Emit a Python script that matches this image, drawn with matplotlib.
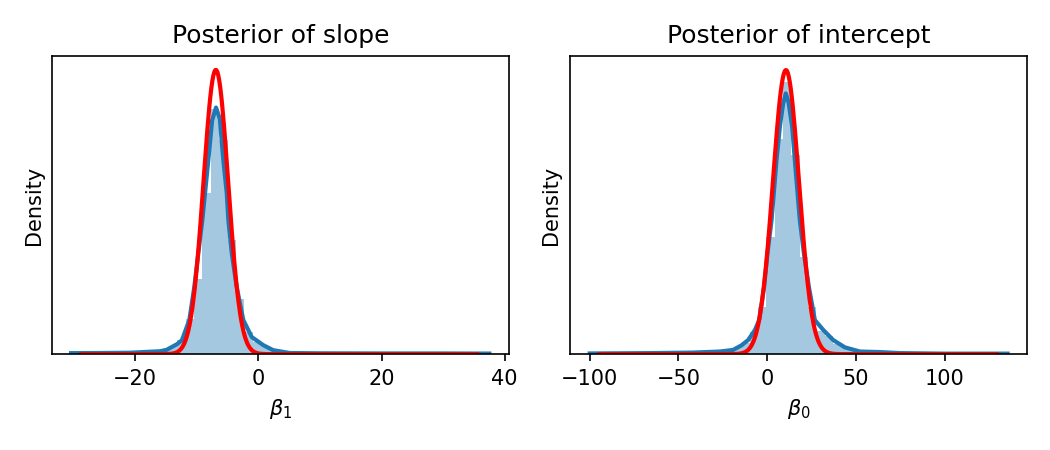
import numpy as np
import matplotlib.pyplot as plt

# ---- slope (beta_1) ----
slope_bin_start = -30.8
slope_bin_width = 1.358
slope_hist = [0.0006, 0.0005, 0.0006, 0.0005, 0.0006, 0.0007, 0.0006, 0.0008,
              0.0010, 0.0014, 0.0020, 0.0030, 0.0060, 0.0100, 0.0250, 0.0530,
              0.1130, 0.1720, 0.1500, 0.0800, 0.0386, 0.0154, 0.0084, 0.0056,
              0.0030, 0.0015, 0.0009,
              0.0006, 0.0005, 0.0005, 0.0004, 0.0005, 0.0004, 0.0005, 0.0006,
              0.0005, 0.0004, 0.0005, 0.0004, 0.0004, 0.0005, 0.0004, 0.0004,
              0.0005, 0.0004, 0.0004, 0.0003, 0.0004, 0.0003, 0.0004]
slope_kde_x = [-30.4, -25.7, -20.8, -17.6, -16.0, -14.9, -13.2, -12.4, -11.2,
               -10.4, -9.74, -9.09, -8.65, -8.12, -7.5, -6.87, -6.25, -5.68,
               -5.13, -4.87, -4.32, -3.51, -2.44, -1.07, 0.81, 2.4, 5.1, 10.0,
               20.0, 30.0, 37.5]
slope_kde_y = [0.0007, 0.0008, 0.0010, 0.0017, 0.0020, 0.0030, 0.0070, 0.0098,
               0.0240, 0.0470, 0.0710, 0.0940, 0.1130, 0.1360, 0.1640, 0.1730,
               0.1650, 0.1360, 0.1130, 0.0940, 0.0710, 0.0470, 0.0240, 0.0120,
               0.0063, 0.0028, 0.0008, 0.0006, 0.0005, 0.0005, 0.0004]
slope_mu, slope_sd = -6.9, 2.0
slope_grid = (-28.7, 35.5)

# ---- intercept (beta_0) ----
icpt_bin_start = -99.5
icpt_bin_width = 4.714
icpt_hist = [0.0002, 0.0001, 0.0002, 0.0002, 0.0001, 0.0002, 0.0002, 0.0003,
             0.0002, 0.0003, 0.0003, 0.0002, 0.0003, 0.0004, 0.0004, 0.0005,
             0.0007, 0.0011, 0.0022, 0.0042, 0.0090, 0.0224, 0.0410, 0.0520,
             0.0380, 0.0186, 0.0090, 0.0045, 0.0034, 0.0020, 0.0012, 0.0007,
             0.0005, 0.0005, 0.0004,
             0.0003, 0.0003, 0.0002, 0.0002, 0.0002, 0.0002, 0.0001, 0.0002,
             0.0001, 0.0001, 0.0001, 0.0001, 0.0001, 0.0001, 0.0002]
icpt_kde_x = [-100.0, -66.0, -41.9, -26.7, -19.2, -14.4, -10.7, -6.9, -4.5,
              -1.7, 0.2, 2.5, 5.3, 7.2, 9.0, 10.5, 12.0, 14.1, 15.6, 18.4,
              20.7, 23.5, 26.9, 31.7, 37.2, 43.8, 52.3, 63.5, 74.8, 100.0,
              135.5]
icpt_kde_y = [0.00013, 0.0002, 0.0003, 0.0005, 0.0008, 0.0017, 0.0027, 0.0046,
              0.0065, 0.0129, 0.0193, 0.0256, 0.0371, 0.0435, 0.0478, 0.0498,
              0.0482, 0.0435, 0.0371, 0.0256, 0.0193, 0.0129, 0.0065, 0.0046,
              0.0027, 0.0013, 0.0005, 0.0004, 0.0002, 0.0001, 0.0001]
icpt_mu, icpt_sd = 10.6, 7.35
icpt_grid = (-94.3, 129.3)


def panel(ax, start, width, hist, kx, ky, mu, sd, grid, title, xlabel, xlim):
    edges = start + width * np.arange(len(hist))
    ax.bar(edges, hist, width=width, align='edge', color='C0', alpha=0.4,
           linewidth=0)
    ax.plot(kx, ky, color='C0', lw=2)
    xs = np.linspace(grid[0], grid[1], 400)
    ax.plot(xs, np.exp(-0.5 * ((xs - mu) / sd) ** 2) / (sd * np.sqrt(2 * np.pi)),
            color='red', lw=2)
    ax.set_xlim(xlim)
    ax.set_ylim(bottom=0)
    ax.set_yticks([])
    ax.set_ylabel('Density')
    ax.set_xlabel(xlabel)
    ax.set_title(title)


fig, axes = plt.subplots(1, 2, figsize=(7, 3), dpi=150)
plt.subplots_adjust(left=0.0495, right=0.978, bottom=0.213, top=0.876,
                    wspace=0.133)

panel(axes[0], slope_bin_start, slope_bin_width, slope_hist, slope_kde_x,
      slope_kde_y, slope_mu, slope_sd, slope_grid, 'Posterior of slope',
      r'$\beta_1$', (-33.5, 40.7))
axes[0].set_xticks([-20, 0, 20, 40])
panel(axes[1], icpt_bin_start, icpt_bin_width, icpt_hist, icpt_kde_x,
      icpt_kde_y, icpt_mu, icpt_sd, icpt_grid, 'Posterior of intercept',
      r'$\beta_0$', (-111.2, 146.4))
axes[1].set_xticks([-100, -50, 0, 50, 100])

plt.savefig('out.png')
